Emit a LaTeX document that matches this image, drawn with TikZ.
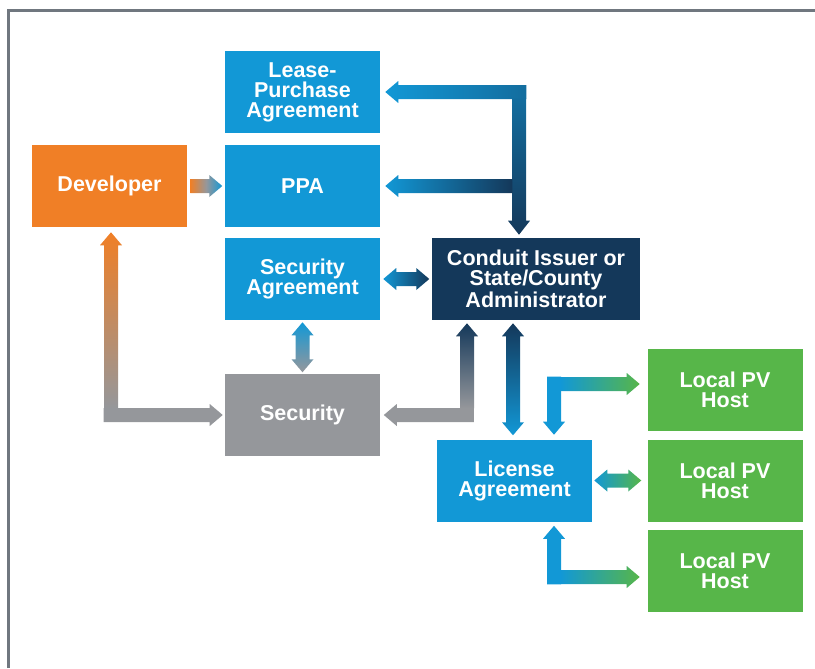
\documentclass[tikz,border=0pt]{standalone}
\usepackage{fontspec}
\setmainfont{Liberation Sans}
\usetikzlibrary{calc}
\definecolor{Sky}{RGB}{18,152,214}
\definecolor{Navy}{RGB}{20,56,90}
\definecolor{Tangerine}{RGB}{240,127,38}
\definecolor{Ash}{RGB}{149,151,155}
\definecolor{Leaf}{RGB}{87,182,73}
\definecolor{Frame}{RGB}{112,119,127}
\tikzset{
  box/.style={rectangle,inner sep=0pt,align=center,text=white,minimum width=38.75mm,minimum height=20.5mm,
    font=\fontsize{15.3}{14.2}\selectfont\bfseries},
  agree/.style={box,fill=Sky},
  dev/.style={box,fill=Tangerine},
  admin/.style={box,fill=Navy,minimum width=52mm},
  secbox/.style={box,fill=Ash},
  host/.style={box,fill=Leaf},
  solid sky/.style={fill=Sky},
  solid ash/.style={fill=Ash},
  sky2navy/.style={left color=Sky,right color=Navy},
  sky2leaf/.style={left color=Sky,right color=Leaf}
}
\begin{document}
\begin{tikzpicture}[x=0.25mm,y=-0.25mm]
  \useasboundingbox (0,0) rectangle (815,668);
  \draw[Frame,line width=0.75mm] (8.5,668) -- (8.5,10.5) -- (815,10.5);

  \node[agree] (lease) at (302.5,92) {Lease-\\Purchase\\Agreement};
  \node[agree] (ppa) at (302.5,186) {PPA};
  \node[dev] (dev) at (109.5,186) {Developer};
  \node[agree] (secag) at (302.5,279) {Security\\Agreement};
  \node[secbox] (sec) at (302.5,415) {Security};
  \node[admin] (conduit) at (536,279) {Conduit Issuer or\\State/County\\Administrator};
  \node[agree] (license) at (514.5,480.5) {License\\Agreement};
  \node[host] (host1) at (725,390) {Local PV\\Host};
  \node[host] (host2) at (725,481) {Local PV\\Host};
  \node[host] (host3) at (725,571) {Local PV\\Host};

  % developer -> PPA
  \shade[left color=Tangerine,right color=Sky,middle color=Ash] ($(dev.east)+(3,-7)$) -- ++(19,0) -- ++(0,-4) -- ++(13,11)
    -- ++(-13,11) -- ++(0,-4) -- ++(-19,0) -- cycle;

  % administrator trunk up to lease and PPA
  \shade[left color=Sky,right color=Sky!55!Navy] ($(lease.east)+(5,0)$) -- ++(13,-11) -- ++(0,4) -- ++(128,0)
    -- ++(0,14) -- ++(-128,0) -- ++(0,4) -- cycle;
  \shade[top color=Sky!55!Navy,middle color=Navy,bottom color=Navy] ($(conduit.north)+(-17,-3)$) -- ++(11,-14) -- ++(-4,0)
    -- ++(0,-122) -- ++(-14,0) -- ++(0,122) -- ++(-4,0) -- cycle;
  \shade[sky2navy] ($(ppa.east)+(5,0)$) -- ++(13,-11) -- ++(0,4) -- ++(114,0) -- ++(0,14) -- ++(-114,0) -- ++(0,4) -- cycle;

  % security agreement <-> administrator
  \shade[sky2navy] ($(secag.east)+(3,0)$) -- ++(13,-11) -- ++(0,4) -- ++(20,0) -- ++(0,-4) -- ++(13,11)
    -- ++(-13,11) -- ++(0,-4) -- ++(-20,0) -- ++(0,4) -- cycle;

  % security agreement <-> security
  \shade[top color=Sky,bottom color=Ash] ($(secag.south)+(0,2)$) -- ++(11,13) -- ++(-4,0) -- ++(0,24) -- ++(4,0)
    -- ++(-11,13) -- ++(-11,-13) -- ++(4,0) -- ++(0,-24) -- ++(-4,0) -- cycle;

  % developer <-> security
  \shade[top color=Tangerine,middle color=Ash!75!Tangerine,bottom color=Ash] ($(dev.south)+(1.5,5)$) -- ++(11,13) -- ++(-4,0)
    -- ++(0,163) -- ++(-14,0) -- ++(0,-163) -- ++(-4,0) -- cycle;
  \fill[solid ash] ($(sec.west)+(-2,0)$) -- ++(-13,-11) -- ++(0,4) -- ++(-106,0) -- ++(0,14) -- ++(106,0) -- ++(0,4) -- cycle;

  % administrator <-> security
  \shade[top color=Navy,middle color=Navy,bottom color=Ash] ($(conduit.south)+(-69,3)$) -- ++(11,13) -- ++(-4,0)
    -- ++(0,72) -- ++(-14,0) -- ++(0,-72) -- ++(-4,0) -- cycle;
  \fill[solid ash] ($(sec.east)+(3.5,0)$) -- ++(13,-11) -- ++(0,4) -- ++(77,0) -- ++(0,14) -- ++(-77,0) -- ++(0,4) -- cycle;

  % administrator <-> license
  \shade[top color=Navy,bottom color=Sky] ($(conduit.south)+(-23,3)$) -- ++(11,13) -- ++(-4,0) -- ++(0,86) -- ++(4,0)
    -- ++(-11,13) -- ++(-11,-13) -- ++(4,0) -- ++(0,-86) -- ++(-4,0) -- cycle;

  % license <-> hosts
  \fill[solid sky] ($(license.north)+(39.5,-4.5)$) -- ++(11,-13) -- ++(-4,0) -- ++(0,-45) -- ++(-14,0) -- ++(0,45)
    -- ++(-4,0) -- cycle;
  \shade[sky2leaf] ($(host1.west)+(-7.5,-6)$) -- ++(-13,-11) -- ++(0,4) -- ++(-66,0) -- ++(0,14) -- ++(66,0)
    -- ++(0,4) -- cycle;
  \shade[sky2leaf] ($(license.east)+(2,0)$) -- ++(13,-11) -- ++(0,4) -- ++(21,0) -- ++(0,-4) -- ++(13,11)
    -- ++(-13,11) -- ++(0,-4) -- ++(-21,0) -- ++(0,4) -- cycle;
  \fill[solid sky] ($(license.south)+(39.5,4)$) -- ++(11,13) -- ++(-4,0) -- ++(0,45.5) -- ++(-14,0) -- ++(0,-45.5)
    -- ++(-4,0) -- cycle;
  \shade[sky2leaf] ($(host3.west)+(-7.5,6)$) -- ++(-13,-11) -- ++(0,4) -- ++(-66,0) -- ++(0,14) -- ++(66,0)
    -- ++(0,4) -- cycle;
\end{tikzpicture}
\end{document}
